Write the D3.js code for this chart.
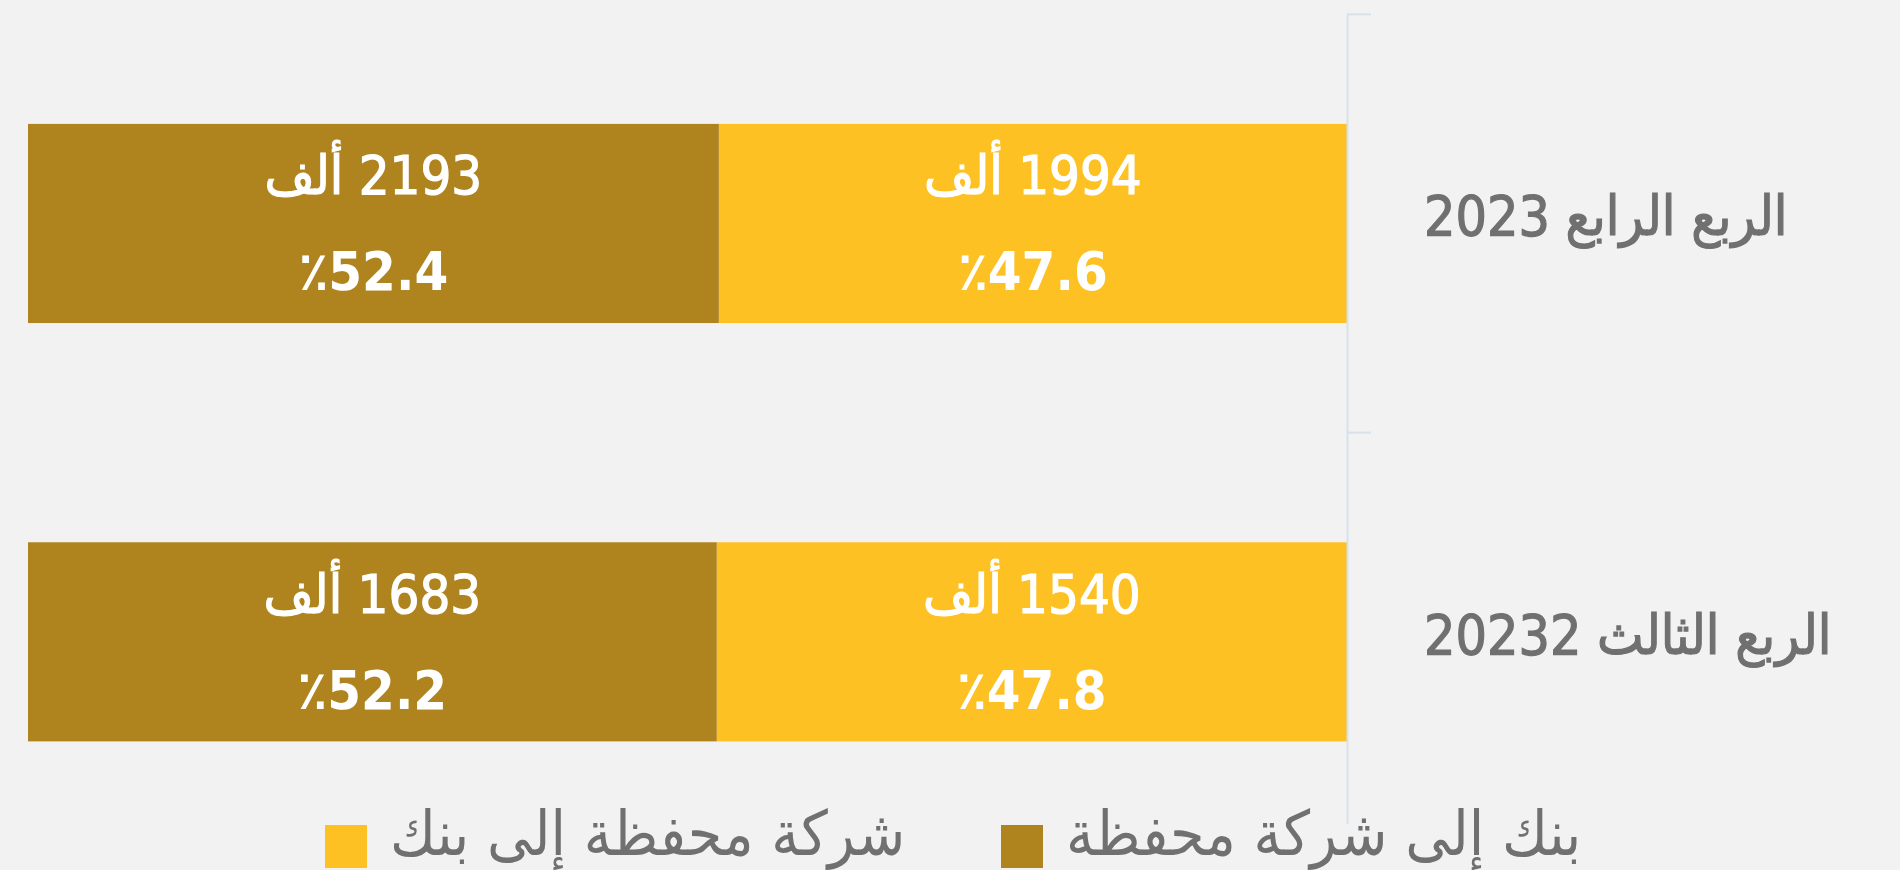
<!DOCTYPE html>
<html>
<head>
	<meta charset="utf-8">
	<title></title>
	<style>
		body { margin: 0; background: #f2f2f2; }
		text { font-family: "DejaVu Sans Condensed", "DejaVu Sans", sans-serif; }
	</style>
</head>
<body>
	<svg id="container" width="1900" height="870"></svg>
</body>
<script src="https://cdn.jsdelivr.net/npm/d3@7/dist/d3.min.js"></script>
<script>
	// data (thousands)
	const quarters = ["الربع الرابع 2023", "الربع الثالث 20232"]
	const companyToBank = [1994, 1540]   // شركة محفظة إلى بنك
	const bankToCompany = [2193, 1683]   // بنك إلى شركة محفظة
	const seriesNames = ["شركة محفظة إلى بنك", "بنك إلى شركة محفظة"]
	const seriesColors = ["#fec124", "#af841f"]

	let svg = d3.select("#container")

	// share of each quarter in percent
	let rows = quarters.map((q, i) => {
		let total = companyToBank[i] + bankToCompany[i]
		return {
			quarter: q,
			values: [companyToBank[i], bankToCompany[i]],
			pct: [companyToBank[i] / total * 100, bankToCompany[i] / total * 100]
		}
	})

	// bars grow from the right (axis) to the left
	let x = d3.scaleLinear().domain([0, 100]).range([1347, 28])
	let y = d3.scaleBand().domain(quarters).range([14.3, 851]).padding(0)
	let barH = y.bandwidth() * 0.476
	let barOff = (y.bandwidth() - barH) / 2

	let groups = svg.selectAll("g.row")
		.data(rows)
		.enter()
		.append("g")
		.attr("class", "row")

	groups.each(function (d) {
		let g = d3.select(this)
		let start = 0
		d.pct.forEach((p, k) => {
			let x0 = x(start), x1 = x(start + p)
			g.append("rect")
				.attr("x", x1)
				.attr("y", y(d.quarter) + barOff)
				.attr("width", x0 - x1)
				.attr("height", barH)
				.style("fill", seriesColors[k])

			let cx = (x0 + x1) / 2
			let cy = y(d.quarter) + y.bandwidth() / 2
			g.append("text")
				.attr("x", cx)
				.attr("y", cy - 29)
				.attr("text-anchor", "middle")
				.attr("direction", "rtl")
				.style("fill", "#ffffff")
				.style("stroke", "#ffffff")
				.style("stroke-width", 1.2)
				.style("font-size", "54px")
				.text(d.values[k] + " ألف")
			g.append("text")
				.attr("x", cx)
				.attr("y", cy + 67)
				.attr("text-anchor", "middle")
				.style("fill", "#ffffff")
				.style("font-size", "54px")
				.style("font-weight", "bold")
				.text("٪" + p.toFixed(1))
			start += p
		})
	})

	// category axis on the right: line + ticks on the band edges
	let axisX = x(0)
	let edges = quarters.map(q => y(q)).concat([y.range()[1]])
	let axisG = svg.append("g").attr("id", "yAxis")
	axisG.append("line")
		.attr("x1", axisX + 0.5).attr("x2", axisX + 0.5)
		.attr("y1", edges[0]).attr("y2", edges[edges.length - 1])
		.style("stroke", "#d8e1eb").style("stroke-width", 2)
	axisG.selectAll("line.tick")
		.data(edges)
		.enter()
		.append("line")
		.attr("class", "tick")
		.attr("x1", axisX).attr("x2", axisX + 24)
		.attr("y1", d => d).attr("y2", d => d)
		.style("stroke", "#d8e1eb").style("stroke-width", 2)

	let labels = d3.axisRight(y).tickSize(0).tickPadding(77)
	let labelG = svg.append("g")
		.attr("transform", `translate(${axisX},0)`)
		.call(labels)
	labelG.select(".domain").remove()
	labelG.selectAll("text")
		.attr("dy", "12px")
		.style("font-family", "\"DejaVu Sans Condensed\", \"DejaVu Sans\", sans-serif")
		.style("font-size", "55px")
		.style("fill", "#707070")
		.style("stroke", "#707070")
		.style("stroke-width", 1.2)

	// legend
	let legend = svg.append("g").attr("id", "legend")
	legend.append("rect")
		.attr("x", 0).attr("y", 824).attr("width", 1900).attr("height", 46)
		.style("fill", "#f2f2f2")
	let legendX = [325, 1001]
	seriesNames.forEach((name, k) => {
		legend.append("rect")
			.attr("x", legendX[k]).attr("y", 825)
			.attr("width", 42).attr("height", 43)
			.style("fill", seriesColors[k])
		legend.append("text")
			.attr("x", legendX[k] + 65)
			.attr("y", 855)
			.style("font-size", "62px")
			.style("fill", "#707070")
			.text(name)
	})
</script>
</html>
